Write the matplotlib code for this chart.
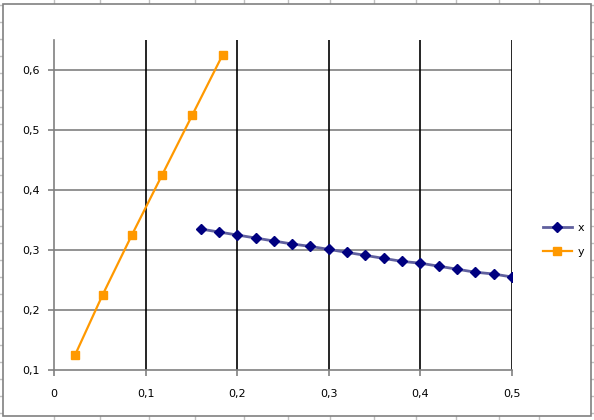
import numpy as np
import matplotlib.pyplot as plt
from matplotlib.patches import Rectangle
from matplotlib.ticker import FuncFormatter

# series "x" (navy diamonds)
x_series_x = [0.16, 0.18, 0.20, 0.22, 0.24, 0.26, 0.28, 0.30, 0.32,
              0.34, 0.36, 0.38, 0.40, 0.42, 0.44, 0.46, 0.48, 0.50]
x_series_y = [0.335, 0.330, 0.325, 0.320, 0.315, 0.310, 0.306, 0.301, 0.296,
              0.291, 0.286, 0.281, 0.278, 0.273, 0.268, 0.263, 0.260, 0.255]

# series "y" (orange squares)
y_series_x = [0.023, 0.053, 0.085, 0.118, 0.151, 0.184]
y_series_y = [0.125, 0.225, 0.325, 0.425, 0.525, 0.625]

xticks = [0, 0.1, 0.2, 0.3, 0.4, 0.5]
yticks = [0.1, 0.2, 0.3, 0.4, 0.5, 0.6]

W, H = 594, 420
fig = plt.figure(figsize=(W / 100, H / 100), dpi=100)

# spreadsheet cells behind the chart object
bg = fig.add_axes([0, 0, 1, 1], zorder=0)
bg.set_xlim(0, W)
bg.set_ylim(H, 0)
bg.axis("off")
cols = [54, 100, 149, 195, 244, 288, 330, 374, 416, 456, 499, 539]
rows = np.arange(5, H, 17)
for c in cols:
    bg.plot([c, c], [0, H], color="#c0c0c0", lw=1)
for r in rows:
    bg.plot([0, W], [r, r], color="#c0c0c0", lw=1)
bg.add_patch(Rectangle((3, 4), 588, 412, facecolor="white",
                       edgecolor="#808080", lw=1.2, zorder=3))

ax = fig.add_axes([54 / W, 50 / H, 458 / W, 330 / H], zorder=1)
ax.patch.set_alpha(0)

ax.plot(x_series_x, x_series_y, color="#60609e", lw=2, marker="D",
        markersize=5.2, markerfacecolor="#000080", markeredgecolor="#000080",
        label="x", zorder=4)
ax.plot(y_series_x, y_series_y, color="#ff9900", lw=1.6, marker="s",
        markersize=5.5, markerfacecolor="#ff9900", markeredgecolor="#ff9900",
        label="y", zorder=4)

ax.set_xlim(0, 0.5)
ax.set_ylim(0.1, 0.65)
ax.set_xticks(xticks)
ax.set_yticks(yticks)
fmt = FuncFormatter(lambda v, p: ("%g" % round(v, 2)).replace(".", ","))
ax.xaxis.set_major_formatter(fmt)
ax.yaxis.set_major_formatter(fmt)

for v in xticks[1:]:
    ax.axvline(v, color="black", lw=1.2, zorder=2)
for v in yticks[1:]:
    ax.axhline(v, color="#808080", lw=1.2, zorder=1)

for s in ["top", "right"]:
    ax.spines[s].set_visible(False)
for s in ["left", "bottom"]:
    ax.spines[s].set_color("#808080")
    ax.spines[s].set_linewidth(1.2)
ax.tick_params(colors="#808080", length=4, width=1.2, labelcolor="black",
               labelsize=8)
ax.tick_params(axis="x", pad=10)
ax.tick_params(axis="y", pad=6)

ax.legend(loc="center left", bbox_to_anchor=(533 / W, 180 / H),
          bbox_transform=fig.transFigure, frameon=False, fontsize=8,
          handlelength=2.6, labelspacing=1.3, handletextpad=0.5)

fig.savefig("out.png", dpi=100)
